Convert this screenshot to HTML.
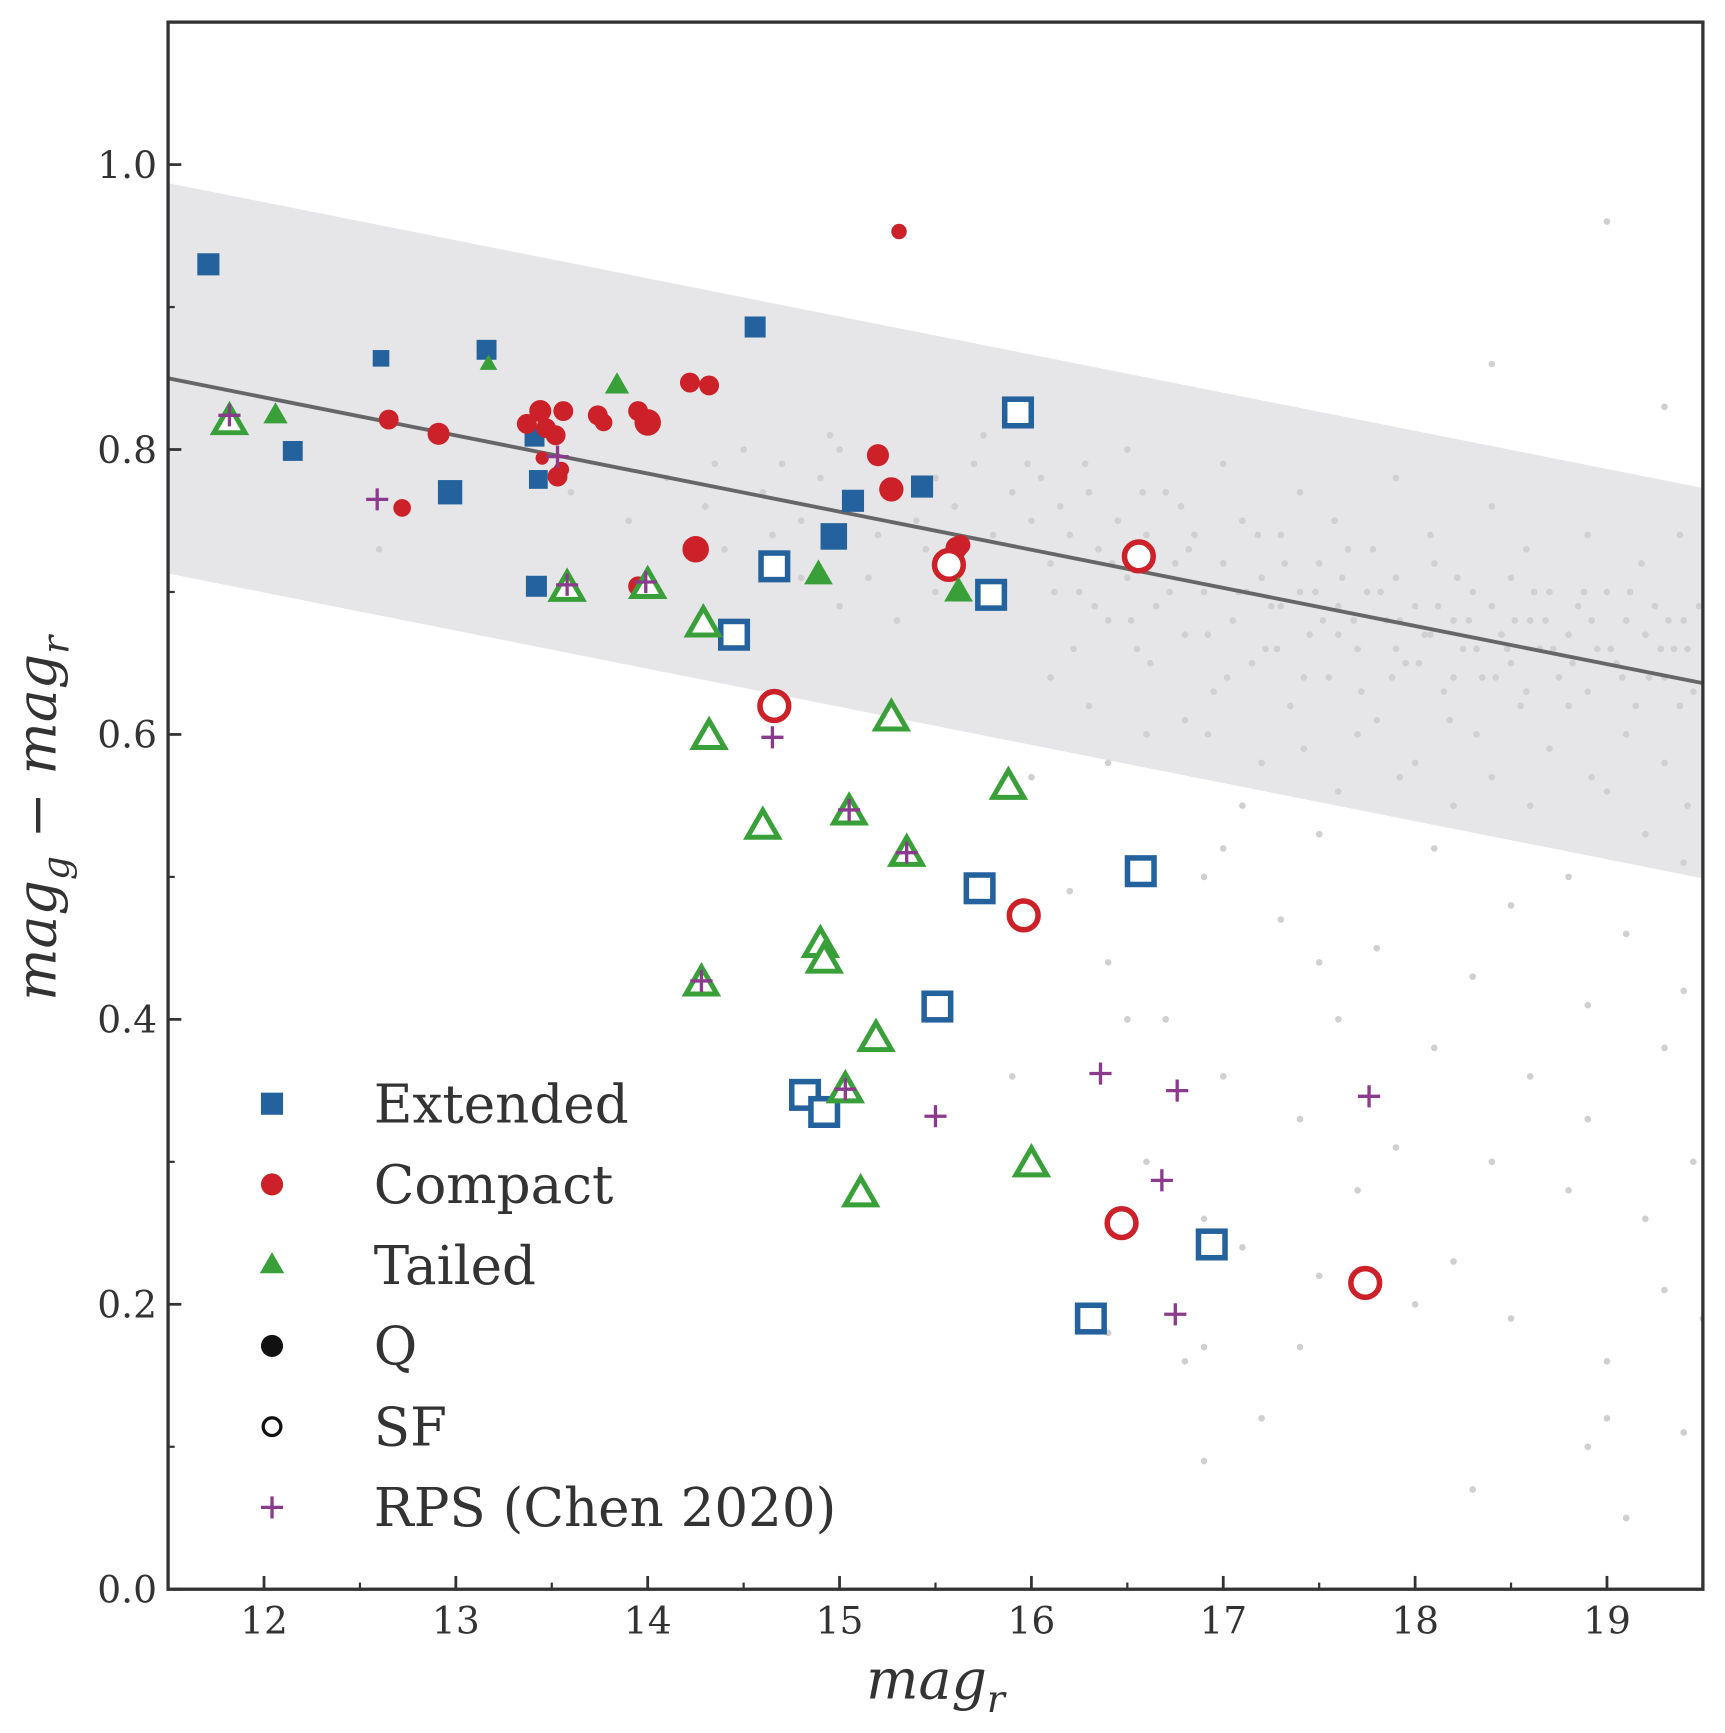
<!DOCTYPE html>
<html><head><meta charset="utf-8"><style>
body{margin:0;background:#fff}
svg{display:block}
text{font-family:"DejaVu Serif","Liberation Serif",serif;fill:#333}
</style></head><body>
<svg id="c" width="1725" height="1733" viewBox="0 0 1560 1567" preserveAspectRatio="none" xmlns="http://www.w3.org/2000/svg"></svg>
<script>
const xTicks=[12,13,14,15,16,17,18,19];
const yTicks=[0.0,0.2,0.4,0.6,0.8,1.0];
const yTickLabels=["0.0","0.2","0.4","0.6","0.8","1.0"];
const fitLine=[[11.5,0.850],[19.5,0.636]];
const bandWidth=0.137;
const extFilled=[[11.71,0.930,20],[12.61,0.864,15],[12.15,0.799,18],[12.97,0.770,22],[13.16,0.870,18],[13.41,0.809,18],[13.43,0.779,17],[13.42,0.704,19],[14.56,0.886,19],[14.97,0.739,24],[15.07,0.764,20],[15.43,0.774,20]];
const extOpen=[[15.93,0.826],[14.66,0.718],[14.45,0.670],[15.79,0.698],[15.73,0.492],[16.57,0.504],[15.51,0.409],[14.82,0.347],[14.92,0.335],[16.94,0.242],[16.31,0.190]];
const cmpFilled=[[15.31,0.953,7],[12.65,0.821,9],[12.91,0.811,10],[12.72,0.759,8],[13.37,0.818,9],[13.44,0.827,10],[13.47,0.815,9],[13.45,0.794,6],[13.52,0.810,9],[13.56,0.827,9],[13.53,0.781,9],[13.55,0.786,7],[13.74,0.824,9],[13.77,0.819,8],[13.95,0.827,9],[14.0,0.819,12],[13.95,0.704,9],[14.22,0.847,9],[14.32,0.845,9],[14.25,0.730,12],[15.2,0.796,10],[15.27,0.772,11],[15.61,0.731,10],[15.63,0.733,9]];
const cmpOpen=[[15.57,0.719],[16.56,0.725],[14.66,0.620],[15.96,0.473],[16.47,0.257],[17.74,0.215]];
const tailFilled=[[12.06,0.824,11],[13.17,0.860,8],[13.84,0.845,11],[14.89,0.712,13],[15.62,0.700,13]];
const tailOpen=[[11.82,0.819],[13.58,0.702],[14.0,0.704],[14.29,0.677],[14.32,0.598],[14.6,0.535],[15.27,0.611],[15.88,0.563],[15.05,0.545],[15.35,0.516],[14.9,0.452],[14.92,0.441],[14.28,0.425],[15.19,0.386],[15.03,0.350],[16.0,0.298],[15.11,0.277]];
const rps=[[11.82,0.824],[12.59,0.765],[13.53,0.795],[13.58,0.705],[13.99,0.707],[14.65,0.598],[15.05,0.547],[15.35,0.517],[14.28,0.427],[15.03,0.351],[15.5,0.332],[16.36,0.362],[16.76,0.350],[16.68,0.287],[17.76,0.346],[16.75,0.193]];
const bgDots=[[14.1,0.78],[14.3,0.76],[14.5,0.80],[14.6,0.77],[14.7,0.79],[14.8,0.75],[14.9,0.78],[15.0,0.80],[15.1,0.76],[15.2,0.74],[15.4,0.75],[15.5,0.78],[15.6,0.76],[15.7,0.79],[15.8,0.74],[15.9,0.77],[16.0,0.75],[16.05,0.78],[16.1,0.72],[16.15,0.76],[16.2,0.74],[16.25,0.70],[16.3,0.77],[16.35,0.73],[16.4,0.68],[16.45,0.75],[16.5,0.71],[16.55,0.66],[16.6,0.74],[16.65,0.69],[16.7,0.77],[16.75,0.72],[16.8,0.67],[16.85,0.74],[16.9,0.70],[16.95,0.63],[17.0,0.72],[17.05,0.68],[17.1,0.75],[17.15,0.65],[17.2,0.71],[17.25,0.69],[17.3,0.74],[17.35,0.62],[17.4,0.70],[17.45,0.67],[17.5,0.72],[17.55,0.64],[17.6,0.69],[17.65,0.73],[17.7,0.66],[17.75,0.70],[17.8,0.61],[17.85,0.68],[17.9,0.71],[17.95,0.65],[18.0,0.69],[18.05,0.67],[18.1,0.72],[18.15,0.63],[18.2,0.68],[18.25,0.66],[18.3,0.70],[18.35,0.64],[18.4,0.69],[18.45,0.67],[18.5,0.71],[18.55,0.62],[18.6,0.68],[18.65,0.66],[18.7,0.70],[18.75,0.64],[18.8,0.67],[18.85,0.69],[18.9,0.63],[18.95,0.66],[19.0,0.70],[19.05,0.65],[19.1,0.68],[19.15,0.62],[19.2,0.67],[19.25,0.69],[19.3,0.64],[19.35,0.66],[19.4,0.68],[19.45,0.63],[17.3,0.69],[17.6,0.67],[17.9,0.66],[18.2,0.64],[18.5,0.65],[18.8,0.62],[19.1,0.60],[18.0,0.58],[18.4,0.57],[18.7,0.59],[17.7,0.60],[17.2,0.58],[16.8,0.61],[19.3,0.58],[19.0,0.56],[18.6,0.55],[17.4,0.77],[17.9,0.78],[18.4,0.76],[18.9,0.74],[16.5,0.80],[17.0,0.79],[15.5,0.70],[15.3,0.68],[15.0,0.69],[14.8,0.71],[14.4,0.73],[13.9,0.75],[13.6,0.77],[12.6,0.73],[16.1,0.64],[16.3,0.62],[16.6,0.60],[17.1,0.55],[17.5,0.53],[18.1,0.52],[18.8,0.50],[19.4,0.51],[16.0,0.57],[16.9,0.50],[17.3,0.47],[17.8,0.45],[18.3,0.43],[18.9,0.41],[19.3,0.38],[16.4,0.44],[16.7,0.40],[17.0,0.36],[17.4,0.33],[17.9,0.31],[18.4,0.30],[18.8,0.28],[19.2,0.26],[19.45,0.30],[16.6,0.30],[17.1,0.24],[17.5,0.22],[18.0,0.20],[18.5,0.19],[19.0,0.16],[19.4,0.11],[19.0,0.96],[18.4,0.86],[19.3,0.83],[16.5,0.40],[15.9,0.36],[17.6,0.40],[18.6,0.36],[16.9,0.17],[17.4,0.17],[16.8,0.16],[18.3,0.07],[19.1,0.05],[19.0,0.12],[19.5,0.19],
[16.12,0.70],[16.22,0.66],[16.33,0.69],[16.42,0.72],[16.52,0.68],[16.62,0.65],[16.72,0.70],[16.82,0.73],[16.92,0.67],[17.02,0.64],[17.12,0.70],[17.22,0.66],[17.32,0.72],[17.42,0.64],[17.52,0.68],[17.62,0.71],[17.72,0.63],[17.82,0.70],[17.92,0.68],[18.02,0.65],[18.12,0.69],[18.22,0.71],[18.32,0.66],[18.42,0.64],[18.52,0.68],[18.62,0.70],[18.72,0.66],[18.82,0.65],[18.92,0.68],[19.02,0.66],[19.12,0.70],[19.22,0.64],[19.32,0.68],[19.42,0.66],[19.48,0.69],[17.08,0.70],[17.28,0.66],[17.48,0.70],[17.68,0.68],[17.88,0.64],[18.08,0.67],[18.28,0.68],[18.48,0.66],[18.68,0.68],[18.88,0.70],[19.08,0.64],[19.28,0.66],[19.38,0.62],[18.58,0.63],[18.18,0.61],[17.78,0.73],[17.18,0.74],[16.58,0.77],[15.98,0.79],[15.45,0.73],[15.15,0.71],[14.95,0.81],[14.65,0.74],[14.35,0.79],[15.75,0.81],[16.28,0.79],[16.78,0.76],[17.58,0.75],[18.08,0.74],[18.58,0.73],[19.18,0.72],[19.38,0.74],[16.92,0.60],[17.42,0.59],[17.92,0.57],[18.32,0.60],[18.92,0.57],[19.42,0.55],[19.2,0.53],[18.2,0.55],[17.6,0.56],[16.4,0.58],[17.0,0.52],[18.5,0.48],[19.1,0.46],[17.5,0.44],[18.1,0.38],[16.2,0.49],[19.4,0.42],[18.9,0.33],[17.7,0.28],[16.9,0.26],[18.2,0.23],[19.3,0.21],[16.4,0.18],[17.2,0.12],[16.9,0.09],[18.9,0.10]];

const L=152,R=1540,T=20,B=1437;
const X=v=>L+(v-11.5)/(19.5-11.5)*(R-L);
const Y=v=>B-(v-0)/(1.1-0)*(B-T);
const svg=document.getElementById('c');
const NS='http://www.w3.org/2000/svg';
function mk(tag,at,parent){const e=document.createElementNS(NS,tag);for(const k in at)e.setAttribute(k,at[k]);(parent||svg).appendChild(e);return e;}
const BLUE='#24629e',RED='#cc2129',GREEN='#39a039',PURPLE='#8b3a8d';

let clip=mk('clipPath',{id:'cp'});mk('rect',{x:L,y:T,width:R-L,height:B-T},clip);
const plot=mk('g',{'clip-path':'url(#cp)'});



const [p0,p1]=fitLine;
let band=mk('polygon',{points:`${X(p0[0])},${Y(p0[1]+bandWidth)} ${X(p1[0])},${Y(p1[1]+bandWidth)} ${X(p1[0])},${Y(p1[1]-bandWidth)} ${X(p0[0])},${Y(p0[1]-bandWidth)}`,fill:'#e6e6e9'},plot);



bgDots.forEach(d=>{let c=mk('circle',{cx:X(d[0]),cy:Y(d[1]),r:3,fill:'#d0d0d2'},plot);

});

let ln=mk('line',{x1:X(p0[0]),y1:Y(p0[1]),x2:X(p1[0]),y2:Y(p1[1]),stroke:'#666',"stroke-width":3.5},plot);



function tri(cx,cy,s){const h=s*0.87;return `${cx},${cy-h*0.62} ${cx-s/2},${cy+h*0.38} ${cx+s/2},${cy+h*0.38}`;}

extFilled.forEach(d=>{let s=d[2];let e=mk('rect',{x:X(d[0])-s/2,y:Y(d[1])-s/2,width:s,height:s,fill:BLUE},plot);

});
extOpen.forEach(d=>{let e=mk('rect',{x:X(d[0])-12,y:Y(d[1])-12,width:24,height:24,fill:'#fff',stroke:BLUE,'stroke-width':5},plot);

});
cmpFilled.forEach(d=>{let e=mk('circle',{cx:X(d[0]),cy:Y(d[1]),r:d[2],fill:RED},plot);

});
cmpOpen.forEach(d=>{let e=mk('circle',{cx:X(d[0]),cy:Y(d[1]),r:13,fill:'#fff',stroke:RED,'stroke-width':5},plot);

});
tailFilled.forEach(d=>{let e=mk('polygon',{points:tri(X(d[0]),Y(d[1]),d[2]*2),fill:GREEN},plot);

});
tailOpen.forEach(d=>{let e=mk('polygon',{points:tri(X(d[0]),Y(d[1]),28),fill:'#fff',stroke:GREEN,'stroke-width':4.5},plot);

});
rps.forEach(d=>{const cx=X(d[0]),cy=Y(d[1]);let g=mk('path',{d:`M${cx-10},${cy}H${cx+10}M${cx},${cy-10}V${cy+10}`,stroke:PURPLE,'stroke-width':3},plot);

});

let fr=mk('rect',{x:L,y:T,width:R-L,height:B-T,fill:'none',stroke:'#333','stroke-width':3});


xTicks.forEach(v=>{const x=X(v);mk('line',{x1:x,y1:B,x2:x,y2:B-12,stroke:'#333','stroke-width':2.5});
mk('line',{x1:X(v+0.5),y1:B,x2:X(v+0.5),y2:B-6,stroke:'#333','stroke-width':2});
let t=mk('text',{x:x,y:B+40,'text-anchor':'middle','font-size':34});t.textContent=v;

});
yTicks.forEach((v,i)=>{const y=Y(v);mk('line',{x1:L,y1:y,x2:L+12,y2:y,stroke:'#333','stroke-width':2.5});
if(v<1.05)mk('line',{x1:L,y1:Y(v+0.1),x2:L+6,y2:Y(v+0.1),stroke:'#333','stroke-width':2});
let t=mk('text',{x:L-10,y:y+12,'text-anchor':'end','font-size':34});t.textContent=yTickLabels[i];

});

let xt=mk('text',{x:846,y:1536,'text-anchor':'middle','font-size':50,'font-style':'italic'});
xt.innerHTML='mag<tspan font-size="34" dy="12">r</tspan>';


let yt=mk('text',{x:0,y:0,'text-anchor':'middle','font-size':50,'font-style':'italic',transform:'translate(50,740) rotate(-90)'});
yt.innerHTML='mag<tspan font-size="34" dy="12">g</tspan><tspan dy="-12"> − mag</tspan><tspan font-size="34" dy="12">r</tspan>';



const legLabels=["Extended","Compact","Tailed","Q","SF","RPS (Chen 2020)"];
const leg=mk('g',{});


legLabels.forEach((lab,i)=>{const y=998+i*73,x=246;
if(i==0)mk('rect',{x:x-10,y:y-10,width:20,height:20,fill:BLUE},leg);
if(i==1)mk('circle',{cx:x,cy:y,r:10,fill:RED},leg);
if(i==2)mk('polygon',{points:tri(x,y,22),fill:GREEN},leg);
if(i==3)mk('circle',{cx:x,cy:y,r:10,fill:'#111'},leg);
if(i==4)mk('circle',{cx:x,cy:y,r:8,fill:'#fff',stroke:'#111','stroke-width':3},leg);
if(i==5)mk('path',{d:`M${x-10},${y}H${x+10}M${x},${y-10}V${y+10}`,stroke:PURPLE,'stroke-width':3},leg);
let t=mk('text',{x:338,y:y+17,'font-size':48},leg);t.textContent=lab;

});
</script>
</body></html>
